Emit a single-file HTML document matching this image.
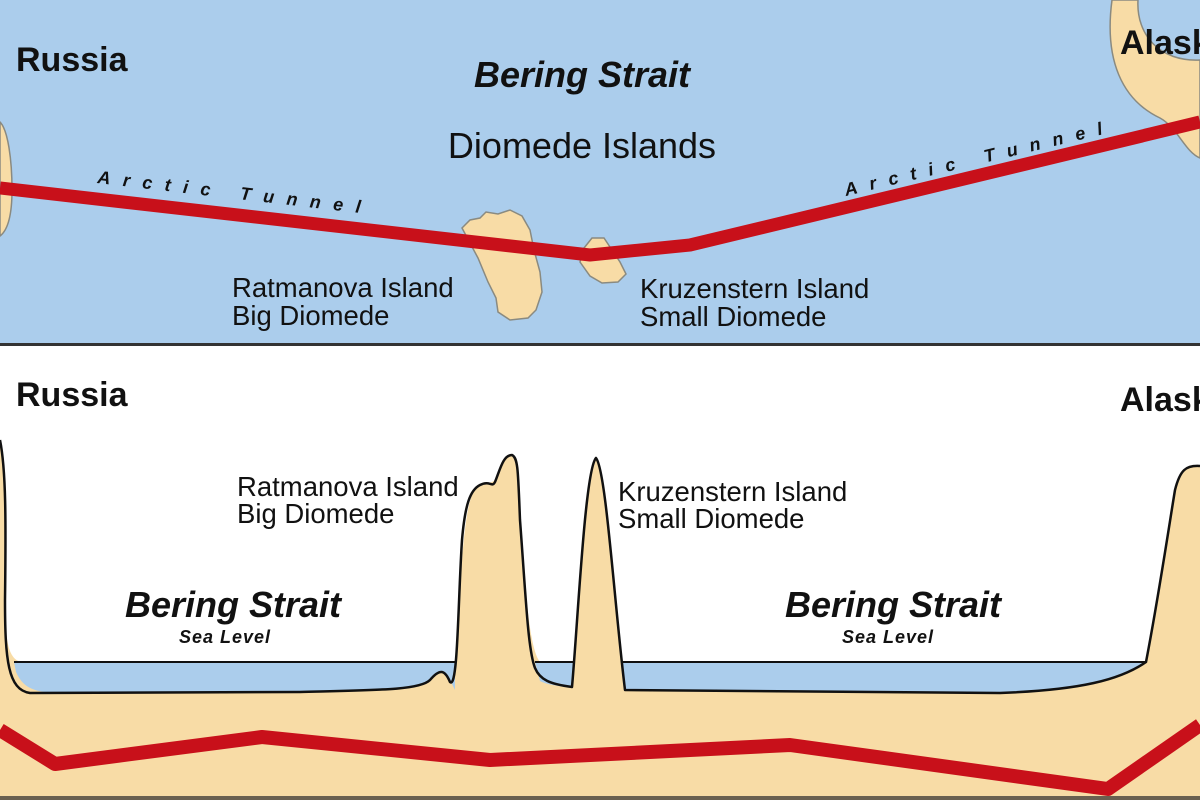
<!DOCTYPE html>
<html><head><meta charset="utf-8"><style>
html,body{margin:0;padding:0;background:#fff;}
svg{display:block;}
text{font-family:"Liberation Sans",Arial,sans-serif;}
</style></head><body>
<svg width="1200" height="800" viewBox="0 0 1200 800" xmlns="http://www.w3.org/2000/svg">
<rect x="0" y="0" width="1200" height="345" fill="#abcdec"/>
<path d="M0,122 C8,130 12,160 12,190 C12,215 8,230 0,236 Z" fill="#f8dca6" stroke="#8a8a80" stroke-width="1.5"/>
<path d="M1112,0 L1138,0 C1136,35 1160,62 1200,60 L1200,158 C1185,152 1178,128 1160,118 C1122,100 1104,60 1112,0 Z" fill="#f8dca6" stroke="#8a8a80" stroke-width="1.5"/>
<path d="M462,228 L470,220 L480,218 L486,212 L498,214 L510,210 L522,216 L530,230 L534,250 L540,272 L542,292 L536,310 L528,318 L510,320 L498,312 L496,298 L488,282 L478,258 Z" fill="#f8dca6" stroke="#8a8a80" stroke-width="1.5"/>
<path d="M580,262 L584,248 L592,238 L604,238 L612,250 L620,262 L626,274 L618,282 L602,283 L590,276 Z" fill="#f8dca6" stroke="#8a8a80" stroke-width="1.5"/>
<polyline points="0,188 590,255 690,245 1200,122" fill="none" stroke="#c8101a" stroke-width="13" stroke-linejoin="round"/>
<rect x="0" y="343" width="1200" height="3" fill="#333"/>
<text x="16" y="71" font-size="34" font-weight="bold" fill="#111">Russia</text>
<text x="1120" y="54" font-size="34" font-weight="bold" fill="#111">Alaska</text>
<text x="582" y="87" font-size="36" font-weight="bold" font-style="italic" text-anchor="middle" fill="#111">Bering Strait</text>
<text x="582" y="158" font-size="36" text-anchor="middle" fill="#111">Diomede Islands</text>
<text x="232" y="297" font-size="27.5" fill="#111">Ratmanova Island</text>
<text x="232" y="325" font-size="27.5" fill="#111">Big Diomede</text>
<text x="640" y="298" font-size="27.5" fill="#111">Kruzenstern Island</text>
<text x="640" y="326" font-size="27.5" fill="#111">Small Diomede</text>
<text transform="translate(97,183) rotate(6.5)" font-size="18" font-weight="bold" font-style="italic" letter-spacing="12.5" fill="#111">Arctic Tunnel</text>
<text transform="translate(846,196) rotate(-13.5)" font-size="18" font-weight="bold" font-style="italic" letter-spacing="12.5" fill="#111">Arctic Tunnel</text>
<path d="M0,440 C6,470 6,520 5,600 C5,640 8,660 22,662 L455,662 C460,600 462,520 472,495 C480,480 490,485 495,480 C500,470 503,455 512,455 C518,458 518,470 520,520 C526,600 530,650 540,662 L573,662 C580,600 585,470 596,458 C606,470 614,600 622,662 L1145,662 C1158,600 1170,520 1175,490 C1180,470 1186,465 1200,466 L1200,800 L0,800 Z" fill="#f8dca6"/>
<path d="M14,662 L455,662 L455,690 L450,680 C445,670 440,668 430,680 C420,690 380,690 300,692 L60,693 C30,693 22,685 16,672 Z" fill="#abcdec"/>
<path d="M535,662 L573,662 L572,687 C560,687 545,684 540,681 Z" fill="#abcdec"/>
<path d="M622,662 L1146,662 C1120,680 1080,690 1000,693 L625,691 Z" fill="#abcdec"/>
<g fill="none" stroke="#111" stroke-width="2.5" stroke-linejoin="round">
<path d="M0,440 C6,470 6,520 5,600 C5,660 8,690 30,693 L300,692 C380,690 420,690 430,680 C440,668 445,670 450,682 C458,690 458,600 462,540 C465,505 470,490 480,485 C490,480 492,488 495,482 C500,470 503,455 512,455 C518,458 518,470 520,520 C526,600 528,650 535,668 C540,680 550,684 572,687 C578,620 585,470 596,458 C606,470 614,600 625,690 L1000,693 C1080,690 1120,680 1146,662 C1158,600 1170,520 1175,490 C1180,470 1186,465 1200,466"/>
<path d="M14,662 L455,662 M535,662 L573,662 M622,662 L1146,662" stroke-width="2"/>
</g>
<polyline points="0,730 55,764 262,737 490,760 790,745 1108,789 1200,725" fill="none" stroke="#c8101a" stroke-width="14" stroke-linejoin="round"/>
<rect x="0" y="796" width="1200" height="4" fill="#6a6050"/>
<text x="16" y="406" font-size="34" font-weight="bold" fill="#111">Russia</text>
<text x="1120" y="411" font-size="34" font-weight="bold" fill="#111">Alaska</text>
<text x="237" y="496" font-size="27.5" fill="#111">Ratmanova Island</text>
<text x="237" y="523" font-size="27.5" fill="#111">Big Diomede</text>
<text x="618" y="501" font-size="27.5" fill="#111">Kruzenstern Island</text>
<text x="618" y="528" font-size="27.5" fill="#111">Small Diomede</text>
<text x="233" y="617" font-size="36" font-weight="bold" font-style="italic" text-anchor="middle" fill="#111">Bering Strait</text>
<text x="225" y="643" font-size="18" font-weight="bold" font-style="italic" letter-spacing="1" text-anchor="middle" fill="#111">Sea Level</text>
<text x="893" y="617" font-size="36" font-weight="bold" font-style="italic" text-anchor="middle" fill="#111">Bering Strait</text>
<text x="888" y="643" font-size="18" font-weight="bold" font-style="italic" letter-spacing="1" text-anchor="middle" fill="#111">Sea Level</text>
</svg>
</body></html>
